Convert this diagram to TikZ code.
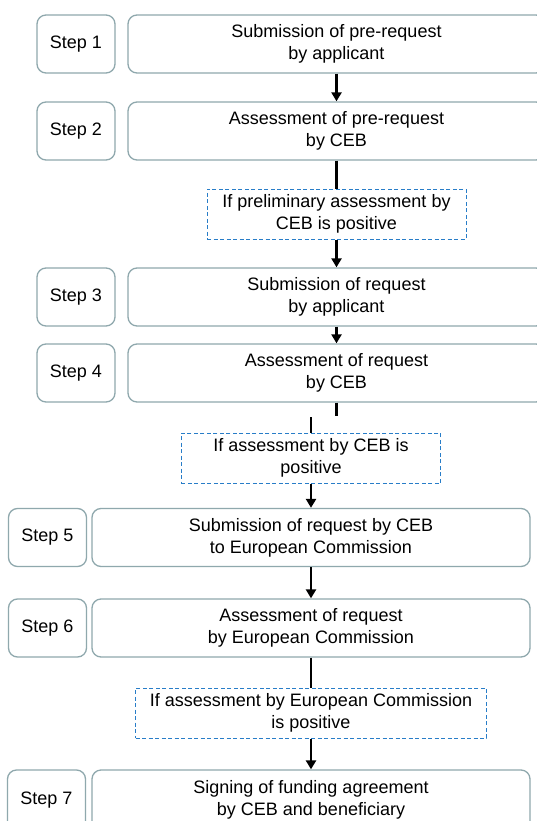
\documentclass[tikz,border=0pt]{standalone}
\usepackage{fontspec}
\setmainfont{Liberation Sans}
\usetikzlibrary{arrows.meta}
\definecolor{boxline}{RGB}{143,168,173}
\definecolor{dashblue}{RGB}{40,125,200}
\begin{document}
\begin{tikzpicture}[x=1pt,y=-1pt,
  every node/.style={font=\fontsize{18}{22}\selectfont, align=center, inner sep=0pt},
  stepbox/.style={draw=boxline, line width=1.3pt, rounded corners=9pt, minimum width=78pt, minimum height=58pt},
  mainbox/.style={draw=boxline, line width=1.3pt, rounded corners=9pt, minimum height=58pt},
  condbox/.style={draw=dashblue, line width=1pt, dash pattern=on 4pt off 2.5pt, minimum height=50pt},
  flow/.style={line width=2.6pt, -{Triangle[length=9pt,width=10pt]}},
  link/.style={line width=2.6pt}]
\useasboundingbox (0,0) rectangle (537,821);
\clip (0,0) rectangle (537,821);
\fill[white] (0,0) rectangle (537,821);

\node[stepbox] (s1) at (76,44) {Step 1};
\node[mainbox, minimum width=417pt] (m1) at (336.5,44) {Submission of pre-request\\by applicant};

\node[stepbox] (s2) at (76,131) {Step 2};
\node[mainbox, minimum width=417pt] (m2) at (336.5,131) {Assessment of pre-request\\by CEB};

\node[condbox, minimum width=259pt] (d1) at (336.5,214) {If preliminary assessment by\\CEB is positive};

\node[stepbox] (s3) at (76,297) {Step 3};
\node[mainbox, minimum width=417pt] (m3) at (336.5,297) {Submission of request\\by applicant};

\node[stepbox] (s4) at (76,373) {Step 4};
\node[mainbox, minimum width=417pt] (m4) at (336.5,373) {Assessment of request\\by CEB};

\coordinate (c1) at (336.5,416);
\coordinate (c2) at (311,417);

\node[condbox, minimum width=259.5pt] (d2) at (311,458) {If assessment by CEB is\\positive};

\node[stepbox] (s5) at (47.5,537.5) {Step 5};
\node[mainbox, minimum width=438pt] (m5) at (311,537.5) {Submission of request by CEB\\to European Commission};

\node[stepbox] (s6) at (47.5,628) {Step 6};
\node[mainbox, minimum width=438pt] (m6) at (311,628) {Assessment of request\\by European Commission};

\node[condbox, minimum width=351pt] (d3) at (311,713) {If assessment by European Commission\\is positive};

\node[stepbox, minimum height=60pt] (s7) at (46.5,800) {Step 7};
\node[mainbox, minimum width=438pt, minimum height=60pt] (m7) at (311,800) {Signing of funding agreement\\by CEB and beneficiary};

\draw[flow] (m1) -- (m2);
\draw[link] (m2) -- (d1);
\draw[flow] (d1) -- (m3);
\draw[flow] (m3) -- (m4);
\draw[link] (m4) -- (c1);
\draw[link] (c2) -- (d2);
\draw[flow] (d2) -- (m5);
\draw[flow] (m5) -- (m6);
\draw[link] (m6) -- (d3);
\draw[flow] (d3) -- (m7);
\end{tikzpicture}
\end{document}
